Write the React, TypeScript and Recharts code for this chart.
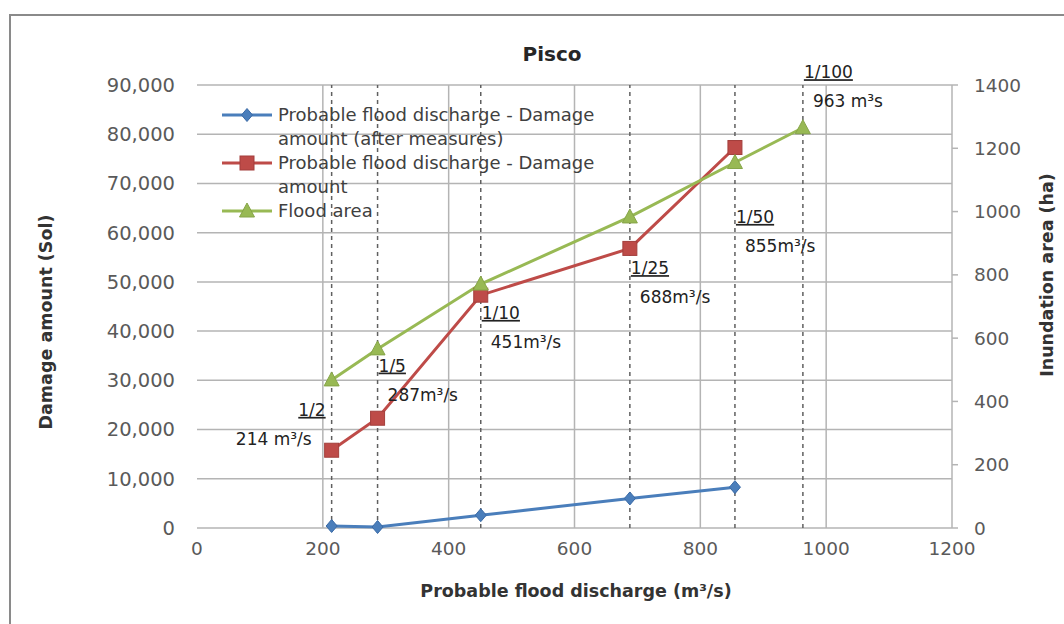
import React from 'react';
import { LineChart, Line, XAxis, YAxis, CartesianGrid, ReferenceLine, ReferenceDot, Legend, Label } from 'recharts';

// ---- data ----
const discharge = [214, 287, 451, 688, 855, 963];
const damageAfterMeasures = [400, 200, 2600, 6000, 8300, null];
const damageAmount = [15800, 22300, 47300, 56800, 77300, null];
const floodArea = [468, 566, 771, 983, 1155, 1265];
const returnPeriods = ['1/2', '1/5', '1/10', '1/25', '1/50', '1/100'];
const dischargeLabels = ['214 m³/s', '287m³/s', '451m³/s', '688m³/s', '855m³/s', '963 m³s'];
const annotationLevels = [24000, 33000, 43700, 52800, 63200, 92600];
const xTicks = [0, 200, 400, 600, 800, 1000, 1200];
const leftTicks = [0, 10000, 20000, 30000, 40000, 50000, 60000, 70000, 80000, 90000];
const rightTicks = [0, 200, 400, 600, 800, 1000, 1200, 1400];
const seriesNames = [
  'Probable flood discharge - Damage amount (after measures)',
  'Probable flood discharge - Damage amount',
  'Flood area',
];
const chartTitle = 'Pisco';
const xTitle = 'Probable flood discharge (m³/s)';
const leftTitle = 'Damage amount (Sol)';
const rightTitle = 'Inundation area (ha)';

const rows = discharge.map((x, i) => ({
  x,
  after: damageAfterMeasures[i],
  damage: damageAmount[i],
  area: floodArea[i],
}));

const FONT = '"DejaVu Sans", sans-serif';
const BLUE = '#4A7EBB';
const RED = '#BE4B48';
const GREEN = '#98B954';
const GRID = '#b4b4b4';
const TICK = '#5a5a5a';

const marker = (kind: string, cx: number, cy: number, color: string, key?: any) => {
  if (kind === 'diamond') {
    return <path key={key} d={`M${cx},${cy - 6.5}L${cx + 5.5},${cy}L${cx},${cy + 6.5}L${cx - 5.5},${cy}Z`} fill={color} stroke="#3a6aa6" strokeWidth={1} />;
  }
  if (kind === 'square') {
    return <rect key={key} x={cx - 7} y={cy - 7} width={14} height={14} fill={color} stroke="#a33f3c" strokeWidth={1} />;
  }
  return <path key={key} d={`M${cx},${cy - 8}L${cx + 7.5},${cy + 6}L${cx - 7.5},${cy + 6}Z`} fill={color} stroke="#86a548" strokeWidth={1} />;
};

const makeDot = (kind: string, color: string) => (props: any) => {
  const { cx, cy, index } = props;
  if (cx == null || cy == null || isNaN(cx) || isNaN(cy) || props.value == null) return <g key={`d${kind}${index}`} />;
  return marker(kind, cx, cy, color, `d${kind}${index}`);
};

const legendItems = [
  { name: seriesNames[0], color: BLUE, kind: 'diamond' },
  { name: seriesNames[1], color: RED, kind: 'square' },
  { name: seriesNames[2], color: GREEN, kind: 'triangle' },
];

const renderLegend = () => (
  <div style={{ fontFamily: FONT, fontSize: 18, color: '#404040', lineHeight: '24px' }}>
    {legendItems.map((it) => (
      <div key={it.name} style={{ display: 'flex', alignItems: 'flex-start' }}>
        <svg width={56} height={24} style={{ flex: 'none' }}>
          <line x1={0} y1={12} x2={50} y2={12} stroke={it.color} strokeWidth={3} />
          {marker(it.kind, 25, 12, it.color)}
        </svg>
        <div style={{ width: 340 }}>{it.name}</div>
      </div>
    ))}
  </div>
);

const renderAnnotation = (props: any, i: number) => {
  const vb = props.viewBox || {};
  const cx = vb.x + (vb.width || 0) / 2;
  const cy = vb.y + (vb.height || 0) / 2;
  const left = i === 0;
  return (
    <g>
      <text
        x={left ? cx - 6 : cx + 1}
        y={cy + 6}
        textAnchor={left ? 'end' : 'start'}
        fontFamily={FONT}
        fontSize={17}
        fill="#222"
        textDecoration="underline"
      >
        {left ? returnPeriods[i] + ' ' : returnPeriods[i]}
      </text>
      <text
        x={left ? cx - 20 : cx + 10}
        y={cy + 35}
        textAnchor={left ? 'end' : 'start'}
        fontFamily={FONT}
        fontSize={17}
        fill="#222"
      >
        {dischargeLabels[i]}
      </text>
    </g>
  );
};

export default function App() {
  return (
    <div style={{ position: 'absolute', left: 0, top: 0, width: 1064, height: 624, background: '#fff', overflow: 'hidden' }}>
      <div
        style={{
          position: 'absolute',
          left: 9,
          top: 14,
          width: 1064,
          height: 620,
          borderTop: '2px solid #8a8a8a',
          borderLeft: '2px solid #8a8a8a',
          boxSizing: 'border-box',
        }}
      />
      <div
        style={{
          position: 'absolute',
          left: 0,
          width: 1104,
          top: 41,
          textAlign: 'center',
          fontFamily: FONT,
          fontWeight: 'bold',
          fontSize: 20,
          color: '#262626',
          lineHeight: '26px',
        }}
      >
        {chartTitle}
      </div>
      <LineChart width={1064} height={624} data={rows} margin={{ top: 85, right: 0, bottom: 0, left: 0 }}>
        <CartesianGrid yAxisId="left" vertical={false} stroke={GRID} strokeWidth={1.5} />
        <XAxis
          dataKey="x"
          type="number"
          domain={[0, 1200]}
          ticks={xTicks}
          interval={0}
          height={96}
          tickSize={0}
          tickMargin={14}
          axisLine={false}
          tickLine={false}
          tick={{ fill: TICK, fontSize: 18.5, fontFamily: FONT }}
        >
          <Label
            content={() => (
              <text x={576} y={597} textAnchor="middle" fontFamily={FONT} fontWeight="bold" fontSize={17.5} fill="#333">
                {xTitle}
              </text>
            )}
          />
        </XAxis>
        <YAxis
          yAxisId="left"
          orientation="left"
          width={197}
          domain={[0, 90000]}
          ticks={leftTicks}
          interval={0}
          tickSize={0}
          tickMargin={22}
          axisLine={false}
          tickLine={false}
          tickFormatter={(v: number) => v.toLocaleString('en-US')}
          tick={{ fill: TICK, fontSize: 19.5, fontFamily: FONT }}
        >
          <Label
            content={() => (
              <text x={52} y={322} transform="rotate(-90 52 322)" textAnchor="middle" fontFamily={FONT} fontWeight="bold" fontSize={17.5} fill="#333">
                {leftTitle}
              </text>
            )}
          />
        </YAxis>
        <YAxis
          yAxisId="right"
          orientation="right"
          width={112}
          domain={[0, 1400]}
          ticks={rightTicks}
          interval={0}
          tickSize={6}
          tickMargin={16}
          axisLine={{ stroke: GRID, strokeWidth: 1.5 }}
          tickLine={{ stroke: GRID, strokeWidth: 1.5 }}
          tick={{ fill: TICK, fontSize: 18.5, fontFamily: FONT }}
        >
          <Label
            content={() => (
              <text x={1053} y={275} transform="rotate(-90 1053 275)" textAnchor="middle" fontFamily={FONT} fontWeight="bold" fontSize={17.5} fill="#333">
                {rightTitle}
              </text>
            )}
          />
        </YAxis>
        {xTicks
          .filter((t) => t > 0 && t < 1200)
          .map((t) => (
            <ReferenceLine key={`g${t}`} x={t} yAxisId="left" stroke={GRID} strokeWidth={1.5} />
          ))}
        {discharge.map((d) => (
          <ReferenceLine key={`r${d}`} x={d} yAxisId="left" stroke="#606060" strokeWidth={1.5} strokeDasharray="4 4" />
        ))}
        {discharge.map((d, i) => (
          <ReferenceDot
            key={`a${d}`}
            x={d}
            y={annotationLevels[i]}
            yAxisId="left"
            r={0}
            fill="none"
            stroke="none"
            ifOverflow="visible"
            label={(p: any) => renderAnnotation(p, i)}
          />
        ))}
        <Legend
          layout="vertical"
          align="center"
          verticalAlign="middle"
          content={renderLegend}
          wrapperStyle={{ left: 222, top: 103, width: 420 }}
        />
        <Line
          yAxisId="left"
          dataKey="after"
          name={seriesNames[0]}
          stroke={BLUE}
          strokeWidth={3}
          dot={makeDot('diamond', BLUE)}
          activeDot={false}
          isAnimationActive={false}
        />
        <Line
          yAxisId="left"
          dataKey="damage"
          name={seriesNames[1]}
          stroke={RED}
          strokeWidth={3}
          dot={makeDot('square', RED)}
          activeDot={false}
          isAnimationActive={false}
        />
        <Line
          yAxisId="right"
          dataKey="area"
          name={seriesNames[2]}
          stroke={GREEN}
          strokeWidth={3}
          dot={makeDot('triangle', GREEN)}
          activeDot={false}
          isAnimationActive={false}
        />
      </LineChart>
    </div>
  );
}
